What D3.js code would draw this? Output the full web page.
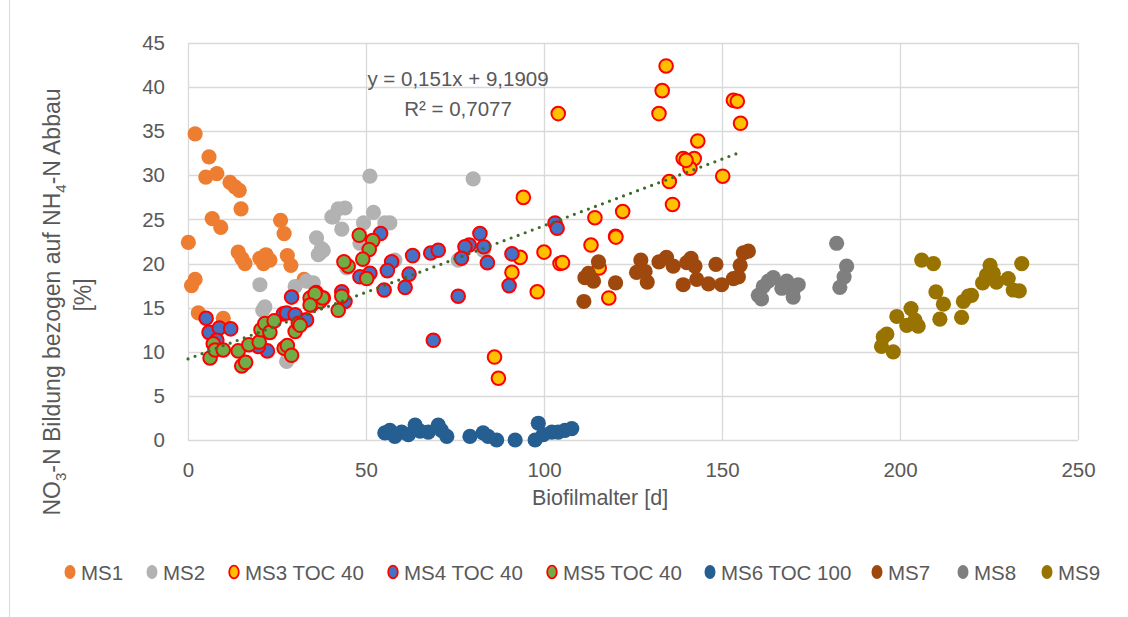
<!DOCTYPE html>
<html><head><meta charset="utf-8">
<script src="https://cdn.jsdelivr.net/npm/d3@7"></script>
<style>
html,body{margin:0;padding:0;background:#fff;}
svg{display:block;}
text{font-family:"Liberation Sans",Arial,sans-serif;fill:#595959;}
</style></head>
<body>
<svg id="chart" width="1128" height="617"></svg>
<script>
// ---- data ----
const seriesNames = ["MS1","MS2","MS3 TOC 40","MS4 TOC 40","MS5 TOC 40","MS6 TOC 100","MS7","MS8","MS9"];
const fillColors = ["#ED7D31","#B2B2B2","#FFC000","#4472C4","#70AD47","#255E91","#9E480E","#7F7F7F","#997300"];
const strokeColors = [null,null,"#FF0000","#FF0000","#FF0000",null,null,null,null];

const ms1X = [2.0,5.9,5.0,8.1,11.8,13.2,14.4,14.9,6.8,9.2,0.1,26.0,27.0,14.1,16.0,15.1,20.2,21.9,23.0,21.2,27.9,28.9,2.0,1.0,2.9,9.9,32.6];
const ms1Y = [34.7,32.1,29.8,30.2,29.2,28.7,28.3,26.2,25.1,24.1,22.4,24.9,23.4,21.3,20.0,20.6,20.6,21.0,20.4,20.0,20.9,19.8,18.2,17.5,14.4,13.8,18.2];

const ms2X = [36.1,37.5,37.1,20.2,21.6,21.0,30.1,35.2,27.7,40.4,51.1,42.2,44.1,40.8,52.1,49.3,43.2,55.3,56.7,38.0,36.6,48.3,58.1,44.6,33.3,80.1,75.9,83.0];
const ms2Y = [22.9,21.7,21.2,17.6,15.1,14.7,17.4,17.8,8.9,25.3,29.9,26.2,26.3,25.3,25.8,24.6,23.9,24.6,24.6,21.5,21.0,22.3,20.4,19.5,18.0,29.6,20.4,21.5];

const ms3X = [134.3,133.2,132.3,104.0,153.2,154.3,155.2,143.2,139.1,142.2,141.0,139.9,150.2,135.2,94.2,136.1,114.3,122.1,120.1,100.0,93.3,91.0,98.1,104.5,86.1,87.2,105.2,113.2,115.5,118.2,120.2];
const ms3Y = [42.4,39.6,37.0,37.0,38.5,38.4,35.9,33.9,31.9,31.9,30.8,31.7,29.9,29.3,27.5,26.7,25.2,25.9,23.1,21.3,20.7,19.0,16.8,20.0,9.4,7.0,20.1,22.1,19.5,16.1,23.0];

const ms4X = [5.1,5.9,8.8,12.0,8.1,29.1,26.8,27.7,30.1,33.1,22.3,19.8,54.1,51.1,48.3,57.2,56.0,63.1,62.1,61.0,55.1,68.2,70.3,68.9,43.2,44.1,33.3,82.0,79.0,77.8,83.1,84.1,76.8,75.9,91.0,90.2,103.1,103.7];
const ms4Y = [13.8,12.2,12.7,12.6,11.3,16.2,14.3,14.4,14.2,13.6,10.1,10.6,23.4,18.9,18.5,20.2,19.2,20.9,18.8,17.3,17.0,21.2,21.5,11.3,16.8,15.7,13.6,23.4,22.1,21.9,21.9,20.1,20.6,16.3,21.1,17.5,24.6,24.0];

const ms5X = [7.1,6.2,7.6,9.9,14.1,15.1,16.2,17.1,20.0,20.5,21.6,23.0,24.2,27.0,27.9,29.1,30.1,31.0,34.3,36.0,38.0,34.7,37.1,48.1,51.9,50.9,49.1,45.0,43.8,50.2,43.2,42.2,37.8,35.7,34.3,31.5];
const ms5Y = [10.9,9.3,10.2,10.2,10.1,8.4,8.8,10.8,11.1,12.5,13.2,12.2,13.5,10.4,10.7,9.6,12.3,13.2,16.1,16.7,16.1,15.3,15.7,23.2,22.6,21.6,20.5,19.7,20.2,18.3,16.3,14.7,16.1,16.6,15.3,13.0];

const ms6X = [55.3,56.7,58.1,60.0,61.9,63.8,65.2,67.5,70.3,71.2,72.7,79.2,82.9,84.3,86.7,91.9,97.5,98.4,99.8,102.2,104.0,105.9,107.8];
const ms6Y = [0.8,1.1,0.4,0.9,0.6,1.7,1.0,0.9,1.7,1.1,0.4,0.4,0.8,0.4,0.0,0.0,0.0,1.9,0.6,0.9,0.9,1.1,1.3];

const ms7X = [115.3,112.5,111.5,113.9,111.2,120.1,127.2,126.0,128.4,129.0,132.3,134.4,136.3,140.1,141.3,142.4,139.1,142.9,146.2,148.3,149.9,153.2,154.6,155.1,156.0,157.4];
const ms7Y = [20.2,18.9,18.4,18.0,15.7,17.8,20.4,19.0,19.1,17.9,20.2,20.7,19.7,20.1,20.6,19.7,17.6,18.2,17.7,19.9,17.6,18.3,18.5,19.8,21.2,21.4];

const ms8X = [182.2,185.0,184.3,183.1,164.4,163.0,161.6,160.2,161.1,168.2,166.8,170.0,171.4,170.0];
const ms8Y = [22.3,19.7,18.5,17.3,18.4,18.0,17.4,16.4,16.0,18.0,17.2,17.0,17.6,16.2];

const ms9X = [206.1,209.4,210.1,212.2,211.2,203.1,199.1,201.9,205.1,204.2,196.3,195.3,194.8,198.1,217.3,217.8,219.2,220.1,223.2,225.3,224.3,227.1,230.4,231.8,233.5,234.2,226.2];
const ms9Y = [20.4,20.0,16.8,15.4,13.7,14.9,14.0,13.0,12.9,13.6,12.0,11.7,10.6,10.0,13.9,15.7,16.3,16.4,17.8,19.8,18.7,17.9,18.3,17.0,16.9,20.0,18.9];

const allX = [ms1X,ms2X,ms3X,ms4X,ms5X,ms6X,ms7X,ms8X,ms9X];
const allY = [ms1Y,ms2Y,ms3Y,ms4Y,ms5Y,ms6Y,ms7Y,ms8Y,ms9Y];

const xTicks = [0,50,100,150,200,250];
const yTicks = [0,5,10,15,20,25,30,35,40,45];
const trendSlope = 0.151, trendIntercept = 9.1909;
const trendRange = [0, 154];
const trendLabels = ["y = 0,151x + 9,1909", "R² = 0,7077"];
const xTitle = "Biofilmalter [d]";

// ---- drawing ----
const FS = 20.5;
const svg = d3.select("#chart");
const L = 188, R = 1078, T = 43, B = 440;
const x = d3.scaleLinear().domain([0,250]).range([L,R]);
const y = d3.scaleLinear().domain([0,45]).range([B,T]);

// outer chart frame (left edge visible)
svg.append("line").attr("x1",9.5).attr("x2",9.5).attr("y1",0).attr("y2",617)
  .attr("stroke","#D9D9D9").attr("stroke-width",1);

// gridlines
svg.append("g").selectAll("line").data(yTicks).join("line")
  .attr("x1",L).attr("x2",R).attr("y1",d=>Math.round(y(d))+0.5).attr("y2",d=>Math.round(y(d))+0.5)
  .attr("stroke","#D9D9D9").attr("stroke-width",1.3);
svg.append("g").selectAll("line").data(xTicks).join("line")
  .attr("y1",T).attr("y2",B).attr("x1",d=>Math.round(x(d))+0.5).attr("x2",d=>Math.round(x(d))+0.5)
  .attr("stroke","#D9D9D9").attr("stroke-width",1.3);

// axes (labels only)
const xAxis = d3.axisBottom(x).tickValues(xTicks).tickSize(0).tickPadding(22).tickFormat(d3.format("d"));
const gx = svg.append("g").attr("transform",`translate(0,${B})`).call(xAxis);
gx.select(".domain").remove();
gx.selectAll("text").attr("font-size",FS).attr("fill","#595959").style("font-family",null);

const yAxis = d3.axisLeft(y).tickValues(yTicks).tickSize(0).tickPadding(23).tickFormat(d3.format("d"));
const gy = svg.append("g").attr("transform",`translate(${L},0)`).call(yAxis);
gy.select(".domain").remove();
gy.selectAll("text").attr("font-size",FS).attr("fill","#595959").style("font-family",null);

// axis titles
svg.append("text").attr("x",600).attr("y",505).attr("text-anchor","middle")
  .attr("font-size",21.5).text(xTitle);

const yt = svg.append("text").attr("transform","translate(60,302) rotate(-90)")
  .attr("text-anchor","middle").attr("font-size",23);
yt.append("tspan").text("NO");
yt.append("tspan").attr("font-size",15).attr("dy",6).text("3");
yt.append("tspan").attr("dy",-6).text("-N Bildung bezogen auf NH");
yt.append("tspan").attr("font-size",15).attr("dy",6).text("4");
yt.append("tspan").attr("dy",-6).text("-N Abbau");
svg.append("text").attr("transform","translate(91,295) rotate(-90)")
  .attr("text-anchor","middle").attr("font-size",23).text("[%]");

// points
const plot = svg.append("g");
allX.forEach((xs,i)=>{
  const pts = xs.map((v,j)=>[v, allY[i][j]]);
  plot.append("g").selectAll("circle").data(pts).join("circle")
    .attr("cx",d=>x(d[0])).attr("cy",d=>y(d[1]))
    .attr("r", strokeColors[i] ? 6.8 : 7.6)
    .attr("fill",fillColors[i])
    .attr("stroke",strokeColors[i] || "none")
    .attr("stroke-width",strokeColors[i] ? 2 : 0);
});

// trend line
svg.append("line")
  .attr("x1",x(trendRange[0])).attr("y1",y(trendSlope*trendRange[0]+trendIntercept))
  .attr("x2",x(trendRange[1])).attr("y2",y(trendSlope*trendRange[1]+trendIntercept))
  .attr("stroke","#3F6B2A").attr("stroke-width",3.2)
  .attr("stroke-linecap","round").attr("stroke-dasharray","0 7.5");

// trend labels
svg.append("text").attr("x",458).attr("y",86).attr("text-anchor","middle").attr("font-size",FS).text(trendLabels[0]);
svg.append("text").attr("x",458).attr("y",116).attr("text-anchor","middle").attr("font-size",FS).text(trendLabels[1]);

// legend
const legendX = [70,152,234,393,552,710,877,963,1047];
const lg = svg.append("g");
seriesNames.forEach((n,i)=>{
  const g = lg.append("g").attr("transform",`translate(${legendX[i]},572)`);
  g.append("ellipse").attr("rx",strokeColors[i]?4.8:5.5).attr("ry",strokeColors[i]?6.3:7)
    .attr("fill",fillColors[i]).attr("stroke",strokeColors[i]||"none").attr("stroke-width",1.8);
  g.append("text").attr("x",11).attr("y",7.5).attr("font-size",FS).text(n);
});
</script>
</body></html>
